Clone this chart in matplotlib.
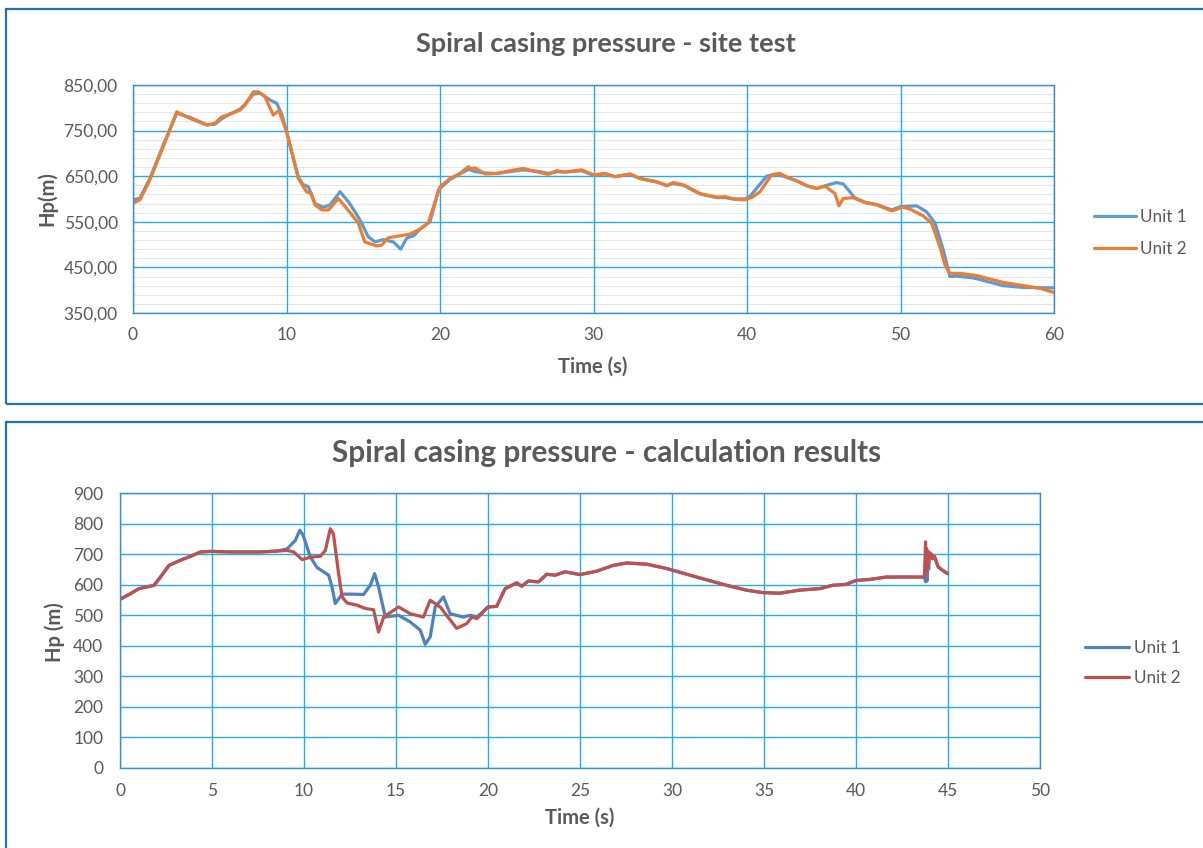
import matplotlib
matplotlib.use('Agg')
import matplotlib.pyplot as plt
import numpy as np
from matplotlib.patches import Rectangle
from matplotlib.ticker import MultipleLocator

plt.rcParams['font.family'] = ['Lato', 'DejaVu Sans']

# ---------------- data: site test ----------------
site_t_u1 = [0, 0.45, 1.1, 1.97, 2.85, 3.71, 4.8, 5.34, 5.78, 6.3, 6.97, 7.3, 7.84, 8.3, 8.93, 9.36, 9.7, 10.0,
             10.77, 11.06, 11.42, 11.86, 12.4, 12.83, 13.49, 14.1, 14.79, 15.33, 15.77, 16.3, 16.96, 17.44, 17.83,
             18.3, 18.7, 19.35, 19.9, 20.65, 21.3, 21.85, 22.3, 22.93, 23.7, 24.56, 25.43, 26.5, 27.06, 27.6, 28.15,
             29.23, 29.99, 30.75, 31.4, 32.38, 33.03, 34.12, 34.77, 35.2, 35.86, 36.94, 38.03, 38.6, 39.1, 39.87,
             40.2, 41.28, 41.9, 42.8, 43.23, 43.89, 44.54, 45.08, 45.84, 46.27, 46.7, 47.0, 47.69, 48.45, 49.43,
             49.96, 51.05, 51.7, 52.25, 52.79, 53.22, 53.6, 54.74, 56.7, 58.0, 60.0]
site_u1 = [598, 602, 645, 718, 788, 779, 763, 764, 776, 786, 797, 808, 830, 832, 817, 810, 785, 748,
           648, 632, 627, 590, 582, 587, 616, 591, 554, 517, 506, 511, 506, 490, 514,
           520, 534, 550, 620, 643, 655, 665, 660, 657, 656, 660, 664, 660, 656, 660, 659,
           662, 652, 655, 649, 654, 645, 637, 630, 634, 630, 611, 603, 603, 600, 600,
           606, 650, 655, 645, 640, 629, 623, 629, 636, 633, 616, 603, 593, 588, 576,
           583, 585, 572, 547, 488, 430, 431, 427, 410, 406, 405]

site_t_u2 = [0, 0.45, 1.1, 1.97, 2.85, 3.71, 4.8, 5.34, 5.78, 6.3, 6.97, 7.3, 7.84, 8.16, 8.6, 9.14, 9.51, 10.0,
             10.77, 11.3, 11.6, 11.86, 12.3, 12.73, 13.38, 14.1, 14.68, 15.1, 15.87, 16.2, 16.63, 18.05, 18.7,
             19.24, 20.0, 20.65, 21.3, 21.85, 22.05, 22.3, 22.93, 23.7, 24.56, 25.43, 26.5, 27.06, 27.6, 28.15,
             29.23, 29.99, 30.75, 31.4, 32.38, 33.03, 34.12, 34.77, 35.2, 35.86, 36.94, 38.03, 38.6, 39.1, 39.87,
             40.4, 40.85, 41.6, 42.15, 42.8, 43.23, 43.89, 44.54, 45.08, 45.73, 45.99, 46.27, 46.9, 47.69, 48.45,
             49.43, 50.18, 50.6, 51.48, 52.03, 52.57, 52.9, 53.2, 53.88, 54.96, 56.7, 58.0, 59.1, 60.0]
site_u2 = [591, 598, 642, 715, 791, 777, 762, 766, 780, 786, 795, 806, 835, 835, 824, 784, 794, 748,
           645, 616, 612, 587, 576, 576, 601, 572, 547, 506, 497, 499, 515, 523, 534,
           548, 627, 645, 656, 671, 666, 668, 655, 656, 662, 667, 658, 654, 662, 659,
           664, 653, 656, 649, 655, 645, 638, 629, 636, 631, 612, 604, 605, 600, 598,
           605, 616, 653, 656, 645, 640, 629, 623, 628, 612, 585, 601, 603, 592, 587,
           574, 582, 578, 563, 547, 495, 455, 437, 437, 432, 417, 410, 404, 395]

site_yticks = [350, 450, 550, 650, 750, 850]
site_yticklabels = ['350,00', '450,00', '550,00', '650,00', '750,00', '850,00']
site_xticks = [0, 10, 20, 30, 40, 50, 60]

# ---------------- data: calculation ----------------
calc_t_u1 = [0, 0.58, 1.03, 1.85, 2.2, 2.66, 3.29, 3.84, 4.38, 4.92, 6.0, 7.63, 8.54, 9.08, 9.53, 9.77, 9.95,
             10.35, 10.71, 11.34, 11.52, 11.7, 12.07, 12.52, 13.24, 13.6, 13.84, 14.05, 14.42, 15.14, 15.77,
             16.32, 16.59, 16.86, 17.13, 17.58, 17.94, 18.66, 19.03, 19.4, 20.0, 20.47, 20.93, 21.56, 21.83,
             22.2, 22.74, 23.19, 23.65, 24.18, 25.0, 25.9, 26.8, 27.53, 28.62, 29.7, 31.33, 32.96, 34.04, 34.94,
             35.85, 36.93, 38.02, 38.74, 39.46, 40.0, 40.75, 41.64, 42.72, 43.72, 43.78, 43.82, 43.86, 43.9,
             43.95, 44.0, 44.05, 44.1, 44.15, 44.27, 44.45, 44.63, 44.98]
calc_u1 = [552, 571, 587, 598, 625, 663, 680, 693, 707, 709, 707, 707, 710, 717, 745, 778, 762,
           690, 656, 631, 593, 538, 569, 569, 568, 598, 636, 593, 494, 500, 478,
           451, 405, 429, 527, 560, 505, 494, 500, 494, 527, 529, 587, 606, 595,
           612, 609, 634, 631, 642, 633, 644, 663, 671, 667, 653, 625, 598, 582, 574,
           572, 582, 587, 598, 601, 614, 617, 625, 625, 625, 610, 720, 612, 700,
           650, 705, 690, 700, 685, 692, 660, 650, 636]

calc_t_u2 = [0, 0.58, 1.03, 1.85, 2.2, 2.66, 3.29, 3.84, 4.38, 4.92, 6.0, 7.63, 8.54, 9.08, 9.44, 9.9, 10.35,
             10.89, 11.16, 11.43, 11.6, 11.88, 12.07, 12.34, 12.88, 13.33, 13.78, 14.05, 14.33, 15.14, 15.77,
             16.49, 16.86, 17.4, 18.3, 18.85, 19.12, 19.4, 20.0, 20.47, 20.93, 21.56, 21.83, 22.2, 22.74, 23.19,
             23.65, 24.18, 25.0, 25.9, 26.8, 27.53, 28.62, 29.7, 31.33, 32.96, 34.04, 34.94, 35.85, 36.93, 38.02,
             38.74, 39.46, 40.0, 40.75, 41.64, 42.72, 43.72, 43.78, 43.81, 43.84, 43.87, 43.9, 43.93, 43.96,
             44.0, 44.05, 44.1, 44.15, 44.27, 44.45, 44.63, 44.98]
calc_u2 = [552, 571, 587, 598, 625, 663, 680, 693, 707, 709, 707, 707, 710, 712, 707, 682, 690,
           693, 712, 783, 766, 636, 560, 540, 533, 522, 518, 445, 494, 527, 505,
           494, 549, 527, 457, 473, 494, 489, 527, 529, 587, 606, 595, 612, 609, 634,
           631, 642, 633, 644, 663, 671, 667, 653, 625, 598, 582, 574, 572, 582, 587,
           598, 601, 614, 617, 625, 625, 625, 740, 640, 715, 655, 710, 665, 705,
           700, 690, 700, 685, 692, 660, 650, 636]

calc_yticks = list(range(0, 1000, 100))
calc_xticks = list(range(0, 55, 5))

# ---------------- styling ----------------
W, H = 1203, 848
fig = plt.figure(figsize=(W / 100, H / 100), dpi=100)

TXT = '#595959'
GRID = '#22ADE6'
SPINE = '#3C8DCB'
BORDER = '#1F73BD'


def ax_px(l, t, r, b):
    return fig.add_axes([l / W, 1 - b / H, (r - l) / W, (b - t) / H])


# panel borders
fig.patches.append(Rectangle((6 / W, 1 - 404 / H), 1.05, (404 - 9) / H, transform=fig.transFigure,
                             fill=False, ec=BORDER, lw=1.6, clip_on=False))
fig.patches.append(Rectangle((6 / W, -0.05), 1.05, (848 - 422) / H + 0.05, transform=fig.transFigure,
                             fill=False, ec=BORDER, lw=1.6, clip_on=False))

# ---- top chart ----
ax1 = ax_px(133, 85, 1054, 313)
ax1.set_xlim(0, 60)
ax1.set_ylim(350, 850)
ax1.set_yticks(site_yticks)
ax1.set_yticklabels(site_yticklabels)
ax1.set_xticks(site_xticks)
minor_y = [v for v in np.arange(370, 850, 20) if v not in site_yticks]
ax1.hlines(minor_y, 0, 60, colors='#E6E6E6', lw=0.8, zorder=0.1)
ax1.grid(which='major', axis='both', color=GRID, lw=1.0, zorder=0.5)
ax1.set_axisbelow(True)
ax1.tick_params(which='both', length=0, labelsize=12.5, labelcolor=TXT)
ax1.tick_params(axis='y', pad=11)
ax1.tick_params(axis='x', pad=10)
for s in ax1.spines.values():
    s.set_color(SPINE)
    s.set_linewidth(1.0)
l1, = ax1.plot(site_t_u1, site_u1, color='#5B9BD5', lw=2.3, solid_joinstyle='round', solid_capstyle='round')
l2, = ax1.plot(site_t_u2, site_u2, color='#ED7D31', lw=2.3, solid_joinstyle='round', solid_capstyle='round')
fig.text(606 / W, 1 - 44 / H, 'Spiral casing pressure - site test', ha='center', va='center',
         fontsize=19.5, fontweight='bold', color=TXT)
fig.text(593 / W, 1 - 367 / H, 'Time (s)', ha='center', va='center', fontsize=14.5, fontweight='bold', color=TXT)
fig.text(47 / W, 1 - 199 / H, 'Hp(m)', ha='center', va='center', rotation=90, fontsize=14.5,
         fontweight='bold', color=TXT)
ax1.legend([l1, l2], ['Unit 1', 'Unit 2'], loc='center left', bbox_to_anchor=(1094 / W, 1 - 233 / H),
           bbox_transform=fig.transFigure, frameon=False, fontsize=12.3, labelcolor=TXT,
           handlelength=2.45, handletextpad=0.25, labelspacing=0.95, borderpad=0, borderaxespad=0)

# ---- bottom chart ----
ax2 = ax_px(120, 493, 1040, 768)
ax2.set_xlim(0, 50)
ax2.set_ylim(0, 900)
ax2.set_yticks(calc_yticks)
ax2.set_xticks(calc_xticks)
ax2.grid(which='major', axis='both', color=GRID, lw=1.0)
ax2.set_axisbelow(True)
ax2.tick_params(which='both', length=0, labelsize=12.5, labelcolor=TXT)
ax2.tick_params(axis='y', pad=12)
ax2.tick_params(axis='x', pad=11)
for s in ax2.spines.values():
    s.set_color(SPINE)
    s.set_linewidth(1.0)
m1, = ax2.plot(calc_t_u1, calc_u1, color='#4F81BD', lw=2.3, solid_joinstyle='round', solid_capstyle='round')
m2, = ax2.plot(calc_t_u2, calc_u2, color='#C0504D', lw=2.3, solid_joinstyle='round', solid_capstyle='round')
fig.text(607 / W, 1 - 453 / H, 'Spiral casing pressure - calculation results', ha='center', va='center',
         fontsize=21.4, fontweight='bold', color=TXT)
fig.text(580 / W, 1 - 818 / H, 'Time (s)', ha='center', va='center', fontsize=14.5, fontweight='bold', color=TXT)
fig.text(55 / W, 1 - 632 / H, 'Hp (m)', ha='center', va='center', rotation=90, fontsize=14.5,
         fontweight='bold', color=TXT)
ax2.legend([m1, m2], ['Unit 1', 'Unit 2'], loc='center left', bbox_to_anchor=(1085 / W, 1 - 663 / H),
           bbox_transform=fig.transFigure, frameon=False, fontsize=12.3, labelcolor=TXT,
           handlelength=2.6, handletextpad=0.25, labelspacing=0.8, borderpad=0, borderaxespad=0)

fig.savefig('out.png', dpi=100)
